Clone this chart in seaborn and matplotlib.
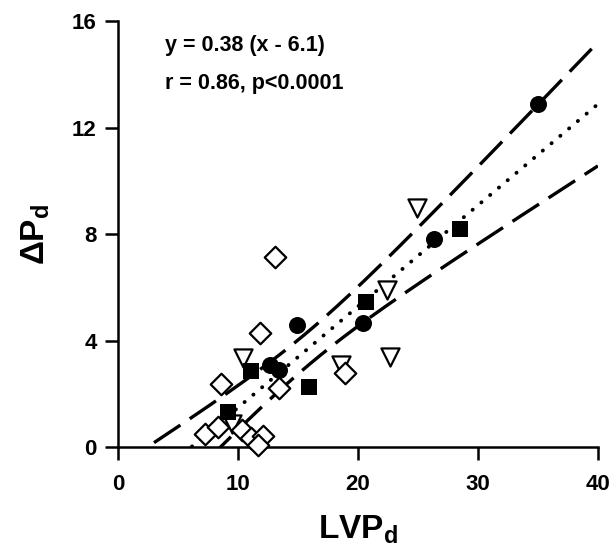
import numpy as np
import pandas as pd
import seaborn as sns
from matplotlib import pyplot as plt

# LVPd / delta Pd values, one pair of lists per symbol group
circ_x = [35.0, 26.3, 20.4, 14.9, 12.7, 13.4]
circ_y = [12.9, 7.8, 4.65, 4.6, 3.1, 2.9]
sq_x = [20.7, 28.5, 11.1, 15.9, 9.2]
sq_y = [5.45, 8.2, 2.87, 2.27, 1.32]
tri_x = [24.9, 22.4, 22.7, 18.6, 10.4, 9.5]
tri_y = [8.97, 5.9, 3.4, 3.08, 3.33, 0.88]
dia_x = [13.1, 11.8, 8.55, 13.4, 18.9, 7.25, 8.35, 10.3, 11.1, 12.1, 11.7]
dia_y = [7.13, 4.27, 2.37, 2.2, 2.79, 0.5, 0.75, 0.64, 0.33, 0.42, 0.08]

# fit printed on the chart
slope = 0.38
x_int = 6.1

x_ticks = [0, 10, 20, 30, 40]
y_ticks = [0, 4, 8, 12, 16]

sns.set_style('ticks')
plt.rcParams['font.family'] = ['Liberation Sans', 'DejaVu Sans']
plt.rcParams['text.color'] = 'black'
plt.rcParams['axes.labelcolor'] = 'black'
plt.rcParams['mathtext.default'] = 'regular'

fig = plt.figure(figsize=(6.12, 5.56), dpi=100)
ax = fig.add_axes([0.193, 0.196, 0.784, 0.766])

# regression line and 95% confidence band of the line
all_x = np.array(circ_x + sq_x + tri_x + dia_x)
all_y = np.array(circ_y + sq_y + tri_y + dia_y)
n = len(all_x)
xbar = all_x.mean()
sxx = ((all_x - xbar) ** 2).sum()
resid = all_y - slope * (all_x - x_int)
s = np.sqrt((resid ** 2).sum() / (n - 2))
t = 2.056

xs = np.linspace(0, 40, 300)
fit = slope * (xs - x_int)
half = t * s * np.sqrt(1.0 / n + (xs - xbar) ** 2 / sxx)
lines = pd.DataFrame({'x': xs, 'fit': fit, 'up': fit + half, 'lo': fit - half})

m = lines['x'] >= x_int
sns.lineplot(x='x', y='fit', data=lines[m], color='black', lw=2.8,
             ax=ax, dashes=False)
ax.lines[-1].set_linestyle((0, (0.05, 2.9)))
ax.lines[-1].set_dash_capstyle('round')
for col in ['up', 'lo']:
    sns.lineplot(x='x', y=col, data=lines, color='black', lw=2.4, ax=ax)
    ax.lines[-1].set_linestyle((0, (9.5, 3.4)))

# symbols
sns.scatterplot(x=circ_x, y=circ_y, marker='o', s=150, color='black',
                edgecolor='black', linewidth=0, ax=ax, clip_on=False, zorder=5)
sns.scatterplot(x=sq_x, y=sq_y, marker='s', s=130, color='black',
                edgecolor='black', linewidth=0, ax=ax, clip_on=False, zorder=5)
sns.scatterplot(x=tri_x, y=tri_y, marker='v', s=170, facecolor='white',
                edgecolor='black', linewidth=1.6, ax=ax, clip_on=False, zorder=4)
sns.scatterplot(x=dia_x, y=dia_y, marker='D', s=120, facecolor='white',
                edgecolor='black', linewidth=1.6, ax=ax, clip_on=False, zorder=4)

ax.set_xlim(0, 40)
ax.set_ylim(0, 16)
ax.set_xticks(x_ticks)
ax.set_yticks(y_ticks)
ax.set_xticklabels([str(v) for v in x_ticks], fontsize=16, fontweight='bold')
ax.set_yticklabels([str(v) for v in y_ticks], fontsize=16, fontweight='bold')
ax.tick_params(direction='out', length=9.5, width=1.8,
               color='black', labelcolor='black')
ax.tick_params(axis='x', pad=10)
ax.tick_params(axis='y', pad=6)
sns.despine(ax=ax)
for side in ['left', 'bottom']:
    ax.spines[side].set_linewidth(1.8)
    ax.spines[side].set_color('black')

ax.set_xlabel(r'LVP$_\mathregular{d}$', fontsize=24, fontweight='bold', labelpad=13)
ax.set_ylabel(r'$\Delta$P$_\mathregular{d}$', fontsize=24, fontweight='bold', labelpad=14)

ax.text(3.9, 15.1, 'y = 0.38 (x - 6.1)', fontsize=15.5, fontweight='bold',
        va='center', ha='left')
ax.text(3.9, 13.65, 'r = 0.86, p<0.0001', fontsize=15.5, fontweight='bold',
        va='center', ha='left')

fig.savefig('out.png', dpi=100)
